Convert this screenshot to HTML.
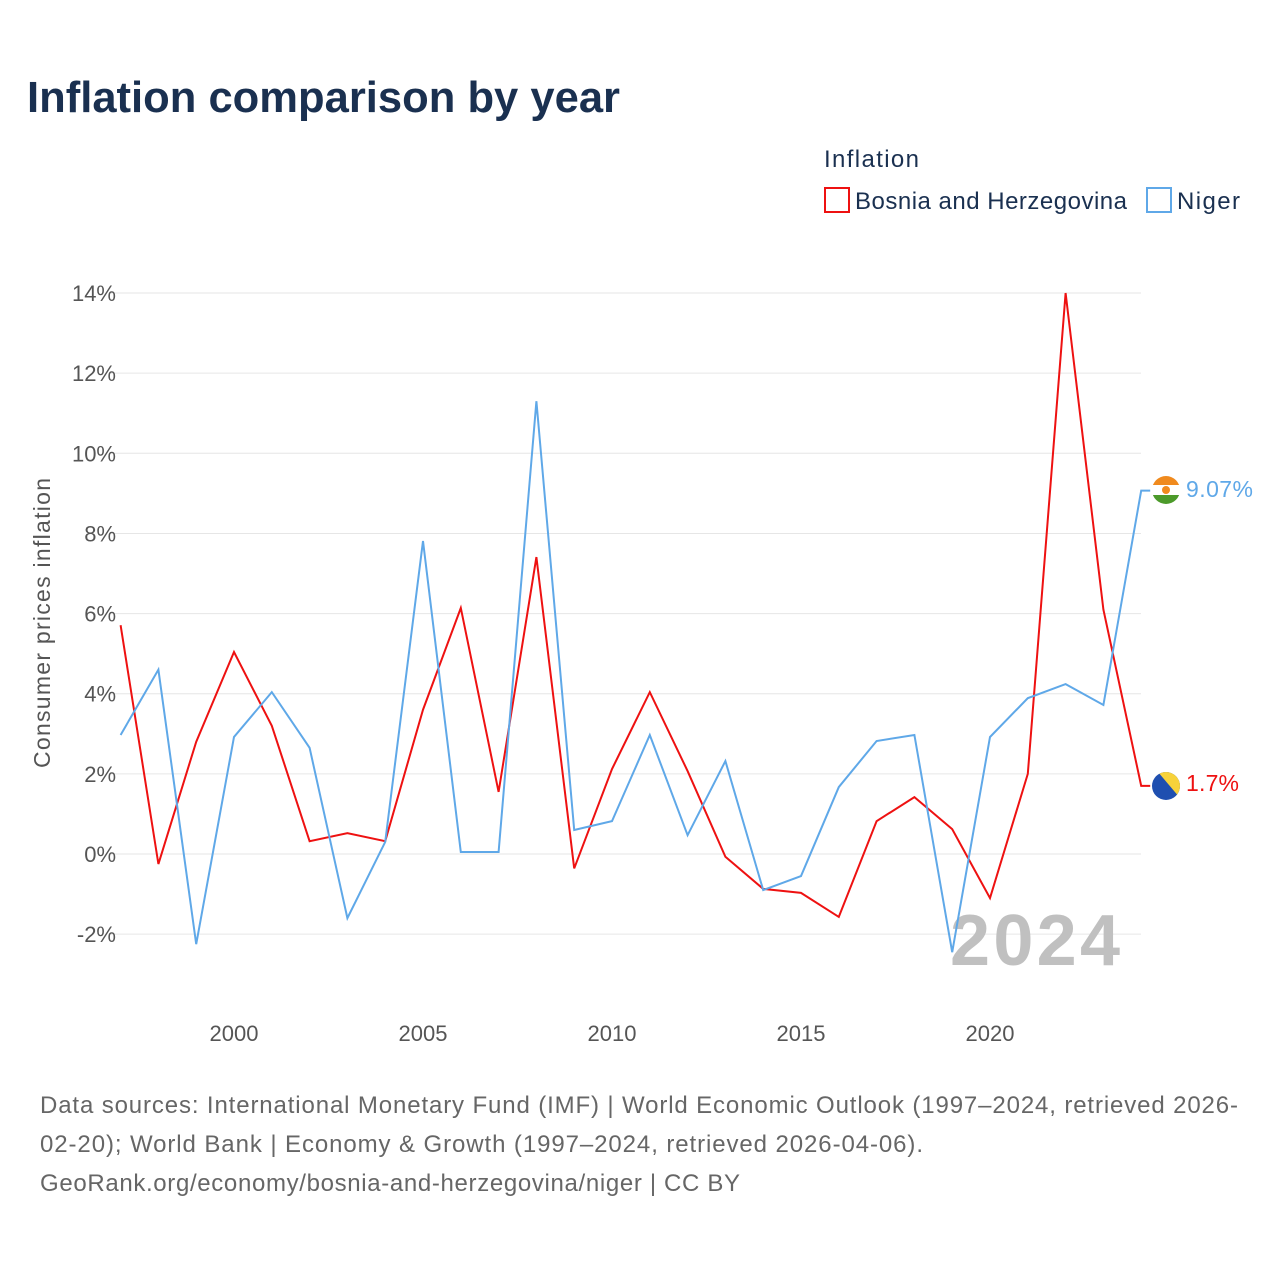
<!DOCTYPE html>
<html><head><meta charset="utf-8"><style>
body{margin:0;background:#fff;font-family:"Liberation Sans",sans-serif;}
svg text{font-family:"Liberation Sans",sans-serif;}
</style></head><body>
<svg width="1280" height="1280" viewBox="0 0 1280 1280" xmlns="http://www.w3.org/2000/svg">
<rect width="1280" height="1280" fill="#fff"/>
<text x="27" y="112" font-size="44" font-weight="bold" fill="#1a3050" textLength="593" lengthAdjust="spacingAndGlyphs">Inflation comparison by year</text>
<text x="824" y="167" font-size="24" fill="#1a3050" textLength="95">Inflation</text>
<g><rect x="825" y="188" width="24" height="24" fill="none" stroke="#ee1111" stroke-width="2"/><text x="855" y="209" font-size="24" fill="#1a3050" textLength="272">Bosnia and Herzegovina</text></g>
<g><rect x="1147" y="188" width="24" height="24" fill="none" stroke="#5fa8e8" stroke-width="2"/><text x="1177" y="209" font-size="24" fill="#1a3050" textLength="63">Niger</text></g>
<g id="grid"></g>
<text transform="translate(50,623) rotate(-90)" text-anchor="middle" font-size="23" fill="#555" textLength="290">Consumer prices inflation</text>
<text x="1120" y="965" text-anchor="end" font-size="72" font-weight="bold" fill="#c0c0c0" textLength="170">2024</text>
<g id="series"></g>
<g>
<clipPath id="cn"><circle cx="1166" cy="490" r="14"/></clipPath>
<g clip-path="url(#cn)"><rect x="1152" y="476" width="28" height="28" fill="#fff"/><rect x="1152" y="476" width="28" height="9" fill="#f08a1e"/><rect x="1152" y="495" width="28" height="9" fill="#4c9a2a"/><circle cx="1166" cy="490" r="4" fill="#f08a1e"/></g>
<text x="1186" y="497" font-size="23" fill="#5fa8e8" textLength="67">9.07%</text></g>
<g>
<clipPath id="cb"><circle cx="1166" cy="786" r="14"/></clipPath>
<g clip-path="url(#cb)"><rect x="1152" y="772" width="28" height="28" fill="#1f4fb0"/><path d="M1158,772 L1180,772 L1180,798 Z" fill="#f7d23a"/></g>
<text x="1186" y="791" font-size="23" fill="#ee1111" textLength="53">1.7%</text></g>
<text x="40" y="1113" font-size="24" fill="#666" textLength="1198">Data sources: International Monetary Fund (IMF) | World Economic Outlook (1997–2024, retrieved 2026-</text>
<text x="40" y="1152" font-size="24" fill="#666" textLength="883">02-20); World Bank | Economy &amp; Growth (1997–2024, retrieved 2026-04-06).</text>
<text x="40" y="1191" font-size="24" fill="#666" textLength="700">GeoRank.org/economy/bosnia-and-herzegovina/niger | CC BY</text>
</svg>
<script>
const years=[1997,1998,1999,2000,2001,2002,2003,2004,2005,2006,2007,2008,2009,2010,2011,2012,2013,2014,2015,2016,2017,2018,2019,2020,2021,2022,2023,2024];
const bosnia=[5.71,-0.25,2.8,5.04,3.2,0.32,0.52,0.32,3.6,6.14,1.55,7.41,-0.36,2.12,4.04,2.07,-0.07,-0.87,-0.97,-1.57,0.82,1.42,0.62,-1.1,2.0,14.0,6.1,1.7];
const niger=[2.97,4.6,-2.25,2.92,4.04,2.65,-1.6,0.3,7.81,0.05,0.05,11.3,0.6,0.82,2.97,0.47,2.32,-0.9,-0.55,1.67,2.82,2.97,-2.45,2.92,3.89,4.24,3.72,9.07];
const yTicks=[-2,0,2,4,6,8,10,12,14];
const xTicks=[2000,2005,2010,2015,2020];
const NS="http://www.w3.org/2000/svg";
const X=y=>120.6+(y-1997)*37.8;
const Y=v=>854-v*40.07;
const grid=document.getElementById('grid');
function mk(t,a,p){const e=document.createElementNS(NS,t);for(const k in a)e.setAttribute(k,a[k]);p.appendChild(e);return e;}
yTicks.forEach(v=>{
 const l=mk('line',{x1:110,x2:1141,y1:Y(v),y2:Y(v),stroke:'#e6e6e6','stroke-width':1},grid);
 
 
 const t=mk('text',{x:116,y:Y(v)+8,'text-anchor':'end','font-size':22,fill:'#555'},grid);
 t.textContent=v+'%';
 
 
});
xTicks.forEach(y=>{
 const t=mk('text',{x:X(y),y:1041,'text-anchor':'middle','font-size':22,fill:'#555'},grid);
 t.textContent=y;
 
 
});
const s=document.getElementById('series');
[[bosnia,'#ee1111','line-bosnia'],[niger,'#5fa8e8','line-niger']].forEach(([d,c,n])=>{
 const pts=d.map((v,i)=>X(years[i])+','+Y(v));
 pts.push((X(years[years.length-1])+9)+','+Y(d[d.length-1]));
 const p=mk('polyline',{points:pts.join(' '),fill:'none',stroke:c,'stroke-width':2,'stroke-linejoin':'miter'},s);
 
 
});
</script>
</body></html>
